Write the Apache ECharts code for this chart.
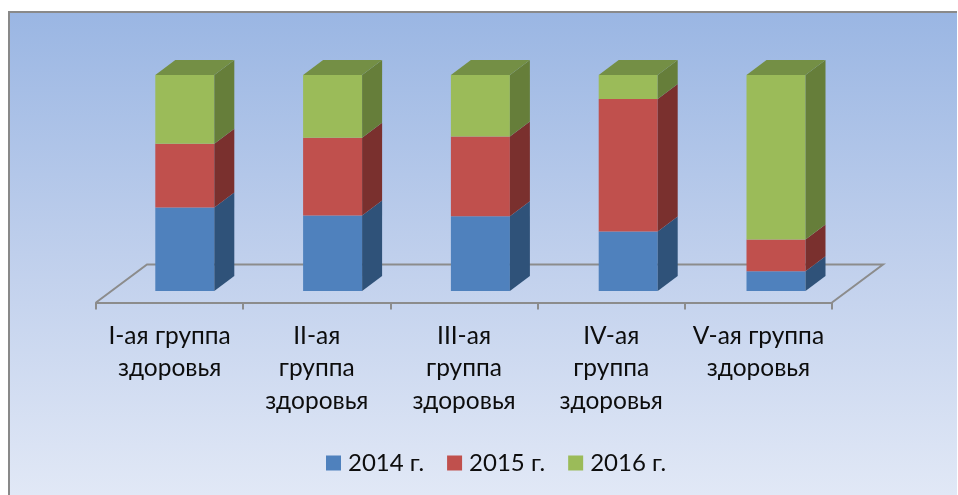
<!DOCTYPE html>
<html><head><meta charset="utf-8">
<style>html,body{margin:0;padding:0;background:#fff}#c{width:958px;height:495px}</style>
<script src="https://cdn.jsdelivr.net/npm/echarts@6/dist/echarts.min.js"></script>
</head><body><div id="c"></div>
<script>
const categories = ['I-ая группа\nздоровья','II-ая\nгруппа\nздоровья','III-ая\nгруппа\nздоровья','IV-ая\nгруппа\nздоровья','V-ая группа\nздоровья'];
const seriesNames = ['2014 г.','2015 г.','2016 г.'];
const values2014 = [38.7,35.0,34.6,27.6,9.2];
const values2015 = [29.5,36.0,36.9,61.3,14.7];
const values2016 = [31.8,29.0,28.5,11.1,76.1];
const FONT = 'Lato, "Open Sans", sans-serif';
const front = ['#4F81BD','#C0504D','#9BBB59'];
const side = ['#2F5279','#7A302E','#667E3A'];
const topFace = '#748F45';
const DX=20, DY=15, SHIFTX=14, SHIFTY=11, FLOORX=51, FLOORY=38;
const all = [values2014,values2015,values2016];
function stackData(k){
  return categories.map((c,i)=>{
    let s=0; for(let j=0;j<k;j++) s+=all[j][i];
    return [i,s,s+all[k][i]];
  });
}
function bar3d(k){
  return function(params,api){
    const c0=api.coord([api.value(0),api.value(1)]);
    const c1=api.coord([api.value(0),api.value(2)]);
    const w=59;
    const l=c0[0]+SHIFTX-w/2, r=l+w, b=c0[1]-SHIFTY, t=c1[1]-SHIFTY;
    const kids=[
      {type:'rect',shape:{x:l,y:t,width:w,height:b-t},style:{fill:front[k]}},
      {type:'polygon',shape:{points:[[r,b],[r+DX,b-DY],[r+DX,t-DY],[r,t]]},style:{fill:side[k]}}
    ];
    if(k===2) kids.push({type:'polygon',shape:{points:[[l,t],[l+DX,t-DY],[r+DX,t-DY],[r,t]]},style:{fill:topFace}});
    return {type:'group',children:kids};
  };
}
const floorSeries={type:'custom',silent:true,z:1,data:[[0,0]],xAxisIndex:0,yAxisIndex:0,
  renderItem(params,api){
    const s=params.coordSys, y=s.y+s.height, x=s.x, w=s.width;
    return {type:'polyline',shape:{points:[[x,y],[x+FLOORX,y-FLOORY],[x+w+FLOORX,y-FLOORY],[x+w,y]]},
      style:{stroke:'#8C8C8C',lineWidth:2,fill:null}};
  }};
const chart=echarts.init(document.getElementById('c'),null,{renderer:'canvas'});
chart.setOption({
  animation:false,
  backgroundColor:'#fff',
  graphic:[
    {type:'rect',z:-10,shape:{x:8,y:11,width:949,height:484},
      style:{fill:new echarts.graphic.LinearGradient(0,0,0,1,[{offset:0,color:'#9AB6E3'},{offset:0.5,color:'#BFCFEC'},{offset:1,color:'#E1E8F6'}])}},
    {type:'rect',z:-9,shape:{x:8,y:11,width:949,height:2},style:{fill:'#898989'}},
    {type:'rect',z:-9,shape:{x:8,y:11,width:2,height:484},style:{fill:'#898989'}}
  ],
  grid:[{left:96,width:736,top:86,height:216.5},{left:96.9,width:739,top:86,height:216}],
  xAxis:[{type:'category',gridIndex:0,data:categories,
    axisLine:{show:true,lineStyle:{color:'#8C8C8C',width:2}},
    axisTick:{show:true,length:7,lineStyle:{color:'#8C8C8C',width:2}},
    axisLabel:{interval:0,color:'#0d0d0d',fontFamily:FONT,fontSize:24.5,lineHeight:32.5,margin:17}},
    {type:'category',gridIndex:1,data:categories,show:false}],
  yAxis:[{type:'value',gridIndex:0,min:0,max:100,show:false},{type:'value',gridIndex:1,min:0,max:100,show:false}],
  legend:{left:326,top:451,padding:0,itemWidth:15,itemHeight:15,itemGap:23,icon:'rect',
    textStyle:{color:'#0d0d0d',fontFamily:FONT,fontSize:24,padding:[0,0,0,2]},
    data:seriesNames},
  series:[floorSeries].concat(seriesNames.map((n,k)=>({
    type:'custom',name:n,z:2+k,xAxisIndex:1,yAxisIndex:1,data:stackData(k),renderItem:bar3d(k),
    itemStyle:{color:front[k]},encode:{x:0,y:2}
  })))
});
</script></body></html>
